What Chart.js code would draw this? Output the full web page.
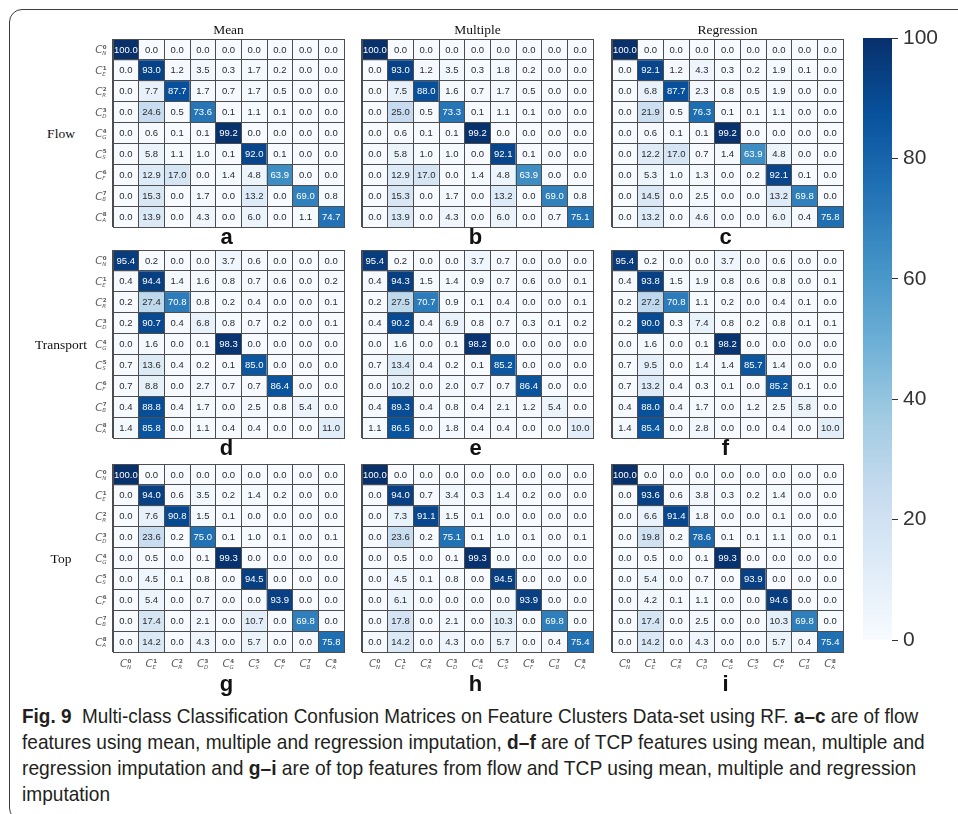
<!DOCTYPE html>
<html>
<head>
<meta charset="utf-8">
<script src="https://cdn.jsdelivr.net/npm/chart.js@4.4.1/dist/chart.umd.min.js"></script>
<style>
  html, body { margin: 0; padding: 0; background: #fff; }
  body { width: 958px; height: 814px; overflow: hidden; position: relative; font-family: "Liberation Sans", Arial, sans-serif; }
  .frame { position: absolute; left: 9px; top: 9px; width: 1000px; height: 812px; border: 1px solid #3c3c3c; border-radius: 13px; box-sizing: border-box; }
  canvas { position: absolute; }
  .title { position: absolute; font-family: "Liberation Serif", "Times New Roman", serif; font-size: 13.5px; color: #111; transform: translate(-50%, -50%); white-space: nowrap; }
  .letter { position: absolute; font-family: "Liberation Sans", Arial, sans-serif; font-weight: bold; font-size: 22px; color: #111; transform: translate(-50%, -50%); }
  .caption { position: absolute; left: 22px; top: 703px; font-family: "Liberation Sans Narrow", "Liberation Sans", Arial, sans-serif; font-size: 21px; color: #231f20; }
  .caption span.line { display: block; height: 26px; line-height: 26px; white-space: nowrap; transform-origin: 0 50%; width: max-content; }
</style>
</head>
<body>
<div class="frame"></div>

<script>
// ---- class labels (C with superscript index and subscript letter) ----
const classIndex = ['0', '1', '2', '3', '4', '5', '6', '7', '8'];
const classLetter = ['N', 'E', 'R', 'D', 'G', 'S', 'F', 'B', 'A'];

// ---- panel captions ----
const imputationTitles = ['Mean', 'Multiple', 'Regression'];
const clusterNames = ['Flow', 'Transport', 'Top'];
const panelLetters = ['a', 'b', 'c', 'd', 'e', 'f', 'g', 'h', 'i'];
const colorbarTicks = [0, 20, 40, 60, 80, 100];

// ---- confusion matrices (rows: true class, columns: predicted class, %) ----
const flowMean = [
  [100.0, 0.0, 0.0, 0.0, 0.0, 0.0, 0.0, 0.0, 0.0],
  [0.0, 93.0, 1.2, 3.5, 0.3, 1.7, 0.2, 0.0, 0.0],
  [0.0, 7.7, 87.7, 1.7, 0.7, 1.7, 0.5, 0.0, 0.0],
  [0.0, 24.6, 0.5, 73.6, 0.1, 1.1, 0.1, 0.0, 0.0],
  [0.0, 0.6, 0.1, 0.1, 99.2, 0.0, 0.0, 0.0, 0.0],
  [0.0, 5.8, 1.1, 1.0, 0.1, 92.0, 0.1, 0.0, 0.0],
  [0.0, 12.9, 17.0, 0.0, 1.4, 4.8, 63.9, 0.0, 0.0],
  [0.0, 15.3, 0.0, 1.7, 0.0, 13.2, 0.0, 69.0, 0.8],
  [0.0, 13.9, 0.0, 4.3, 0.0, 6.0, 0.0, 1.1, 74.7]
];
const flowMultiple = [
  [100.0, 0.0, 0.0, 0.0, 0.0, 0.0, 0.0, 0.0, 0.0],
  [0.0, 93.0, 1.2, 3.5, 0.3, 1.8, 0.2, 0.0, 0.0],
  [0.0, 7.5, 88.0, 1.6, 0.7, 1.7, 0.5, 0.0, 0.0],
  [0.0, 25.0, 0.5, 73.3, 0.1, 1.1, 0.1, 0.0, 0.0],
  [0.0, 0.6, 0.1, 0.1, 99.2, 0.0, 0.0, 0.0, 0.0],
  [0.0, 5.8, 1.0, 1.0, 0.0, 92.1, 0.1, 0.0, 0.0],
  [0.0, 12.9, 17.0, 0.0, 1.4, 4.8, 63.9, 0.0, 0.0],
  [0.0, 15.3, 0.0, 1.7, 0.0, 13.2, 0.0, 69.0, 0.8],
  [0.0, 13.9, 0.0, 4.3, 0.0, 6.0, 0.0, 0.7, 75.1]
];
const flowRegression = [
  [100.0, 0.0, 0.0, 0.0, 0.0, 0.0, 0.0, 0.0, 0.0],
  [0.0, 92.1, 1.2, 4.3, 0.3, 0.2, 1.9, 0.1, 0.0],
  [0.0, 6.8, 87.7, 2.3, 0.8, 0.5, 1.9, 0.0, 0.0],
  [0.0, 21.9, 0.5, 76.3, 0.1, 0.1, 1.1, 0.0, 0.0],
  [0.0, 0.6, 0.1, 0.1, 99.2, 0.0, 0.0, 0.0, 0.0],
  [0.0, 12.2, 17.0, 0.7, 1.4, 63.9, 4.8, 0.0, 0.0],
  [0.0, 5.3, 1.0, 1.3, 0.0, 0.2, 92.1, 0.1, 0.0],
  [0.0, 14.5, 0.0, 2.5, 0.0, 0.0, 13.2, 69.8, 0.0],
  [0.0, 13.2, 0.0, 4.6, 0.0, 0.0, 6.0, 0.4, 75.8]
];
const tcpMean = [
  [95.4, 0.2, 0.0, 0.0, 3.7, 0.6, 0.0, 0.0, 0.0],
  [0.4, 94.4, 1.4, 1.6, 0.8, 0.7, 0.6, 0.0, 0.2],
  [0.2, 27.4, 70.8, 0.8, 0.2, 0.4, 0.0, 0.0, 0.1],
  [0.2, 90.7, 0.4, 6.8, 0.8, 0.7, 0.2, 0.0, 0.1],
  [0.0, 1.6, 0.0, 0.1, 98.3, 0.0, 0.0, 0.0, 0.0],
  [0.7, 13.6, 0.4, 0.2, 0.1, 85.0, 0.0, 0.0, 0.0],
  [0.7, 8.8, 0.0, 2.7, 0.7, 0.7, 86.4, 0.0, 0.0],
  [0.4, 88.8, 0.4, 1.7, 0.0, 2.5, 0.8, 5.4, 0.0],
  [1.4, 85.8, 0.0, 1.1, 0.4, 0.4, 0.0, 0.0, 11.0]
];
const tcpMultiple = [
  [95.4, 0.2, 0.0, 0.0, 3.7, 0.7, 0.0, 0.0, 0.0],
  [0.4, 94.3, 1.5, 1.4, 0.9, 0.7, 0.6, 0.0, 0.1],
  [0.2, 27.5, 70.7, 0.9, 0.1, 0.4, 0.0, 0.0, 0.1],
  [0.4, 90.2, 0.4, 6.9, 0.8, 0.7, 0.3, 0.1, 0.2],
  [0.0, 1.6, 0.0, 0.1, 98.2, 0.0, 0.0, 0.0, 0.0],
  [0.7, 13.4, 0.4, 0.2, 0.1, 85.2, 0.0, 0.0, 0.0],
  [0.0, 10.2, 0.0, 2.0, 0.7, 0.7, 86.4, 0.0, 0.0],
  [0.4, 89.3, 0.4, 0.8, 0.4, 2.1, 1.2, 5.4, 0.0],
  [1.1, 86.5, 0.0, 1.8, 0.4, 0.4, 0.0, 0.0, 10.0]
];
const tcpRegression = [
  [95.4, 0.2, 0.0, 0.0, 3.7, 0.0, 0.6, 0.0, 0.0],
  [0.4, 93.8, 1.5, 1.9, 0.8, 0.6, 0.8, 0.0, 0.1],
  [0.2, 27.2, 70.8, 1.1, 0.2, 0.0, 0.4, 0.1, 0.0],
  [0.2, 90.0, 0.3, 7.4, 0.8, 0.2, 0.8, 0.1, 0.1],
  [0.0, 1.6, 0.0, 0.1, 98.2, 0.0, 0.0, 0.0, 0.0],
  [0.7, 9.5, 0.0, 1.4, 1.4, 85.7, 1.4, 0.0, 0.0],
  [0.7, 13.2, 0.4, 0.3, 0.1, 0.0, 85.2, 0.1, 0.0],
  [0.4, 88.0, 0.4, 1.7, 0.0, 1.2, 2.5, 5.8, 0.0],
  [1.4, 85.4, 0.0, 2.8, 0.0, 0.0, 0.4, 0.0, 10.0]
];
const topMean = [
  [100.0, 0.0, 0.0, 0.0, 0.0, 0.0, 0.0, 0.0, 0.0],
  [0.0, 94.0, 0.6, 3.5, 0.2, 1.4, 0.2, 0.0, 0.0],
  [0.0, 7.6, 90.8, 1.5, 0.1, 0.0, 0.0, 0.0, 0.0],
  [0.0, 23.6, 0.2, 75.0, 0.1, 1.0, 0.1, 0.0, 0.1],
  [0.0, 0.5, 0.0, 0.1, 99.3, 0.0, 0.0, 0.0, 0.0],
  [0.0, 4.5, 0.1, 0.8, 0.0, 94.5, 0.0, 0.0, 0.0],
  [0.0, 5.4, 0.0, 0.7, 0.0, 0.0, 93.9, 0.0, 0.0],
  [0.0, 17.4, 0.0, 2.1, 0.0, 10.7, 0.0, 69.8, 0.0],
  [0.0, 14.2, 0.0, 4.3, 0.0, 5.7, 0.0, 0.0, 75.8]
];
const topMultiple = [
  [100.0, 0.0, 0.0, 0.0, 0.0, 0.0, 0.0, 0.0, 0.0],
  [0.0, 94.0, 0.7, 3.4, 0.3, 1.4, 0.2, 0.0, 0.0],
  [0.0, 7.3, 91.1, 1.5, 0.1, 0.0, 0.0, 0.0, 0.0],
  [0.0, 23.6, 0.2, 75.1, 0.1, 1.0, 0.1, 0.0, 0.1],
  [0.0, 0.5, 0.0, 0.1, 99.3, 0.0, 0.0, 0.0, 0.0],
  [0.0, 4.5, 0.1, 0.8, 0.0, 94.5, 0.0, 0.0, 0.0],
  [0.0, 6.1, 0.0, 0.0, 0.0, 0.0, 93.9, 0.0, 0.0],
  [0.0, 17.8, 0.0, 2.1, 0.0, 10.3, 0.0, 69.8, 0.0],
  [0.0, 14.2, 0.0, 4.3, 0.0, 5.7, 0.0, 0.4, 75.4]
];
const topRegression = [
  [100.0, 0.0, 0.0, 0.0, 0.0, 0.0, 0.0, 0.0, 0.0],
  [0.0, 93.6, 0.6, 3.8, 0.3, 0.2, 1.4, 0.0, 0.0],
  [0.0, 6.6, 91.4, 1.8, 0.0, 0.0, 0.1, 0.0, 0.0],
  [0.0, 19.8, 0.2, 78.6, 0.1, 0.1, 1.1, 0.0, 0.1],
  [0.0, 0.5, 0.0, 0.1, 99.3, 0.0, 0.0, 0.0, 0.0],
  [0.0, 5.4, 0.0, 0.7, 0.0, 93.9, 0.0, 0.0, 0.0],
  [0.0, 4.2, 0.1, 1.1, 0.0, 0.0, 94.6, 0.0, 0.0],
  [0.0, 17.4, 0.0, 2.5, 0.0, 0.0, 10.3, 69.8, 0.0],
  [0.0, 14.2, 0.0, 4.3, 0.0, 0.0, 5.7, 0.4, 75.4]
];

const matrices = [
  flowMean, flowMultiple, flowRegression,
  tcpMean, tcpMultiple, tcpRegression,
  topMean, topMultiple, topRegression
];

// ---- layout of the 3x3 grid of heatmaps (pixel boxes of the cell areas) ----
const colLeft = [113, 362, 612];
const rowTop = [39, 250, 464];
const gridW = 231, gridH = 188;
const padL = 34, padT = 6, padR = 6, padB = 26;

// ---- "Blues" sequential colour map ----
const BLUES = ['#f7fbff', '#deebf7', '#c6dbef', '#9ecae1', '#6baed6', '#4292c6', '#2171b5', '#08519c', '#08306b'];
const BLUES_RGB = BLUES.map(h => [1, 3, 5].map(i => parseInt(h.substr(i, 2), 16)));
function bluesRGB(t) {
  t = Math.max(0, Math.min(1, t));
  const p = t * (BLUES_RGB.length - 1);
  const i = Math.min(Math.floor(p), BLUES_RGB.length - 2);
  const f = p - i;
  return BLUES_RGB[i].map((c, k) => Math.round(c + (BLUES_RGB[i + 1][k] - c) * f));
}
function blues(t) { const c = bluesRGB(t); return `rgb(${c[0]},${c[1]},${c[2]})`; }
function textColorFor(v) {
  const lin = bluesRGB(v / 100).map(c => { c /= 255; return c <= 0.03928 ? c / 12.92 : Math.pow((c + 0.055) / 1.055, 2.4); });
  const lum = 0.2126 * lin[0] + 0.7152 * lin[1] + 0.0722 * lin[2];
  return lum > 0.408 ? '#2b2b2b' : '#ffffff';
}

const GRID_COLOR = '#4d4d4d';

// cell values written into each cell
const cellText = {
  id: 'cellText',
  afterDatasetsDraw(chart) {
    const ctx = chart.ctx;
    ctx.save();
    ctx.font = '9.5px "Liberation Sans", Arial, sans-serif';
    ctx.textAlign = 'center';
    ctx.textBaseline = 'middle';
    chart.data.datasets.forEach((ds, r) => {
      chart.getDatasetMeta(r).data.forEach((bar, c) => {
        const v = ds.values[c];
        const p = bar.getCenterPoint();
        ctx.fillStyle = textColorFor(v);
        ctx.fillText(v.toFixed(1), p.x, p.y + 0.5);
      });
    });
    ctx.restore();
  }
};

// C^k_L class labels placed at the scales' tick positions
function drawClassLabel(ctx, cx, cy, idx, letter, align) {
  ctx.save();
  ctx.fillStyle = '#5a5a5a';
  ctx.textBaseline = 'alphabetic';
  ctx.textAlign = 'left';
  ctx.font = 'italic 10.5px "DejaVu Sans", sans-serif';
  const wC = ctx.measureText('C').width;
  ctx.font = 'bold 5.5px "DejaVu Sans", sans-serif';
  const wS = Math.max(ctx.measureText(idx).width, 4);
  const total = wC + wS + 0.5;
  const x0 = align === 'right' ? cx - total : cx - total / 2;
  ctx.font = 'italic 10.5px "DejaVu Sans", sans-serif';
  ctx.fillText('C', x0, cy + 4);
  ctx.font = 'bold 5.5px "DejaVu Sans", sans-serif';
  ctx.fillText(idx, x0 + wC + 0.3, cy - 0.5);
  ctx.font = 'italic 5.5px "DejaVu Sans", sans-serif';
  ctx.fillText(letter, x0 + wC - 0.3, cy + 5.5);
  ctx.restore();
}
const classTicks = {
  id: 'classTicks',
  afterDraw(chart, args, opts) {
    const ctx = chart.ctx;
    const xs = chart.scales.x, ys = chart.scales.y;
    if (opts.showY) {
      classIndex.forEach((k, r) => {
        drawClassLabel(ctx, chart.chartArea.left - 6, ys.getPixelForValue(r + 0.5), k, classLetter[r], 'right');
      });
    }
    if (opts.showX) {
      classIndex.forEach((k, c) => {
        drawClassLabel(ctx, xs.getPixelForValue(c), chart.chartArea.bottom + 11, k, classLetter[c], 'center');
      });
    }
  }
};

function makePanel(index) {
  const row = Math.floor(index / 3), col = index % 3;
  const matrix = matrices[index];
  const canvas = document.createElement('canvas');
  const w = gridW + padL + padR, h = gridH + padT + padB;
  canvas.width = w; canvas.height = h;
  canvas.style.left = (colLeft[col] - padL) + 'px';
  canvas.style.top = (rowTop[row] - padT) + 'px';
  canvas.style.width = w + 'px'; canvas.style.height = h + 'px';
  document.body.appendChild(canvas);

  const datasets = matrix.map((vals, r) => ({
    data: vals.map(() => [r, r + 1]),
    values: vals,
    backgroundColor: vals.map(v => blues(v / 100)),
    borderWidth: 0,
    grouped: false,
    barPercentage: 1,
    categoryPercentage: 1
  }));

  new Chart(canvas, {
    type: 'bar',
    data: { labels: classLetter, datasets },
    plugins: [cellText, classTicks],
    options: {
      responsive: false,
      animation: false,
      devicePixelRatio: 1,
      layout: { padding: { left: padL, top: padT, right: padR, bottom: padB } },
      plugins: {
        legend: { display: false },
        tooltip: { enabled: false },
        classTicks: { showY: col === 0, showX: row === 2 }
      },
      scales: {
        x: {
          type: 'category', offset: true,
          grid: { offset: true, color: GRID_COLOR, lineWidth: 1, drawTicks: false, z: 1 },
          border: { display: true, color: GRID_COLOR, width: 1, z: 1 },
          ticks: { display: false }
        },
        y: {
          type: 'linear', min: 0, max: 9, reverse: true,
          grid: { color: GRID_COLOR, lineWidth: 1, drawTicks: false, z: 1 },
          border: { display: true, color: GRID_COLOR, width: 1, z: 1 },
          ticks: { display: false, stepSize: 1 }
        }
      }
    }
  });

  // panel letter under the heatmap
  const lab = document.createElement('div');
  lab.className = 'letter';
  lab.textContent = panelLetters[index];
  lab.style.left = (colLeft[col] + gridW / 2 - 2) + 'px';
  lab.style.top = (rowTop[row] + gridH + (row === 2 ? 32 : 10)) + 'px';
  document.body.appendChild(lab);
}

for (let i = 0; i < 9; i++) makePanel(i);

// column titles and row titles
imputationTitles.forEach((t, c) => {
  const d = document.createElement('div');
  d.className = 'title'; d.textContent = t;
  d.style.left = (colLeft[c] + gridW / 2) + 'px';
  d.style.top = '30px';
  document.body.appendChild(d);
});
clusterNames.forEach((t, r) => {
  const d = document.createElement('div');
  d.className = 'title'; d.textContent = t;
  d.style.left = '61px';
  d.style.top = (rowTop[r] + gridH / 2 + 1) + 'px';
  document.body.appendChild(d);
});

// ---- colour bar ----
const cb = document.createElement('canvas');
cb.width = 103; cb.height = 638;
cb.style.left = '855px'; cb.style.top = '20px';
cb.style.width = '103px'; cb.style.height = '638px';
document.body.appendChild(cb);

new Chart(cb, {
  type: 'bar',
  data: {
    labels: [''],
    datasets: [{
      data: [[0, 100]],
      borderWidth: 0,
      barPercentage: 1,
      categoryPercentage: 1,
      backgroundColor(ctx) {
        const area = ctx.chart.chartArea;
        if (!area) return BLUES[4];
        const g = ctx.chart.ctx.createLinearGradient(0, area.bottom, 0, area.top);
        BLUES.forEach((c, i) => g.addColorStop(i / (BLUES.length - 1), c));
        return g;
      }
    }]
  },
  options: {
    responsive: false,
    animation: false,
    devicePixelRatio: 1,
    layout: { padding: { left: 8, top: 18, right: 16, bottom: 18 } },
    plugins: { legend: { display: false }, tooltip: { enabled: false } },
    scales: {
      x: { display: false },
      y: {
        position: 'right', min: 0, max: 100,
        afterBuildTicks(scale) { scale.ticks = colorbarTicks.map(v => ({ value: v })); },
        afterFit(scale) { scale.width = 50; },
        grid: { drawOnChartArea: false, drawTicks: true, tickLength: 6, tickColor: '#333', color: '#333' },
        border: { display: false },
        ticks: { color: '#333', padding: 5, font: { size: 21, family: '"Liberation Sans", Arial, sans-serif' } }
      }
    }
  }
});
</script>

<div class="caption" id="caption">
  <span class="line" data-w="896"><b>Fig. 9</b>&nbsp; Multi-class Classification Confusion Matrices on Feature Clusters Data-set using RF. <b>a–c</b> are of flow</span>
  <span class="line" data-w="903">features using mean, multiple and regression imputation, <b>d–f</b> are of TCP features using mean, multiple and</span>
  <span class="line" data-w="894">regression imputation and <b>g–i</b> are of top features from flow and TCP using mean, multiple and regression</span>
  <span class="line">imputation</span>
</div>
<script>
  // squeeze each caption line to its set width (condensed look)
  (function () {
    const lines = document.querySelectorAll('#caption span.line');
    let sum = 0, n = 0;
    lines.forEach(l => {
      if (l.dataset.w) {
        const s = parseFloat(l.dataset.w) / l.offsetWidth;
        l.style.transform = `scaleX(${s})`;
        sum += s; n++;
      }
    });
    const avg = sum / n;
    lines.forEach(l => { if (!l.dataset.w) l.style.transform = `scaleX(${avg})`; });
  })();
</script>
</body>
</html>
